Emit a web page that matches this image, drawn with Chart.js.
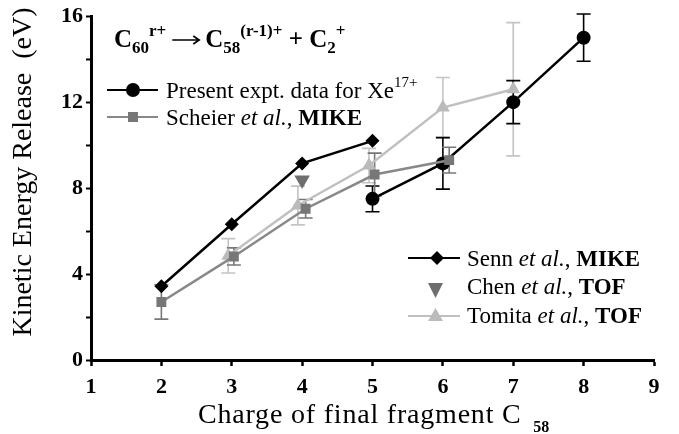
<!DOCTYPE html>
<html><head><meta charset="utf-8">
<script src="https://cdn.jsdelivr.net/npm/chart.js@4"></script>
<style>html,body{margin:0;padding:0;background:#fff;}#wrap{width:679px;height:434px;}</style>
</head><body><div id="wrap"><canvas id="c" width="679" height="434"></canvas></div>
<script>
// ---- data ----
const presentX = [5, 6, 7, 8];
const presentY = [7.5, 9.15, 12.0, 15.0];
const presentErr = [0.6, 1.2, 1.0, 1.1];

const scheierX = [2, 3.03, 4.05, 5.03, 6.09];
const scheierY = [2.7, 4.82, 7.04, 8.63, 9.3];
const scheierErr = [0.8, 0.4, 0.43, 1.0, 0.6];

const sennX = [2, 3, 4, 5];
const sennY = [3.43, 6.32, 9.15, 10.2];

const chenX = [4];
const chenY = [8.38];

const tomitaX = [2.95, 3.94, 4.95, 6, 7];
const tomitaY = [4.85, 7.19, 9.05, 11.75, 12.6];
const tomitaErr = [0.8, 0.9, 0.8, 1.4, 3.1];

const xTicks = [1, 2, 3, 4, 5, 6, 7, 8, 9];
const yMajorTicks = [0, 4, 8, 12, 16];

const pts = (xs, ys) => xs.map((x, i) => ({x: x, y: ys[i]}));
const SERIF = '"Liberation Serif", "Times New Roman", serif';

const errorSets = [
  {xs: tomitaX, ys: tomitaY, err: tomitaErr, color: '#c4c4c4'},
  {xs: presentX, ys: presentY, err: presentErr, color: '#000'},
  {xs: scheierX, ys: scheierY, err: scheierErr, color: '#777'}
];

function drawRich(ctx, x, y, segs) {
  let cx = x;
  segs.forEach(s => {
    if (s.arrow) {
      const w = s.arrow, ay = y - 7;
      ctx.save();
      ctx.strokeStyle = '#000'; ctx.lineWidth = 1.6;
      ctx.beginPath();
      ctx.moveTo(cx, ay); ctx.lineTo(cx + w, ay);
      ctx.moveTo(cx + w - 6, ay - 4); ctx.lineTo(cx + w, ay); ctx.lineTo(cx + w - 6, ay + 4);
      ctx.stroke();
      ctx.restore();
      cx += w + (s.gap || 0);
      return;
    }
    ctx.font = s.font;
    ctx.fillText(s.t, cx, y + (s.dy || 0));
    cx += ctx.measureText(s.t).width + (s.gap || 0);
  });
  return cx;
}

const errorBarPlugin = {
  id: 'errbars',
  beforeDatasetsDraw(chart) {
    const ctx = chart.ctx, xs = chart.scales.x, ys = chart.scales.y;
    ctx.save();
    ctx.lineWidth = 1.6;
    errorSets.forEach(set => {
      ctx.strokeStyle = set.color;
      set.xs.forEach((xv, i) => {
        const e = set.err[i];
        if (e == null) return;
        const px = xs.getPixelForValue(xv);
        const top = ys.getPixelForValue(set.ys[i] + e);
        const bot = ys.getPixelForValue(set.ys[i] - e);
        ctx.beginPath();
        ctx.moveTo(px, top); ctx.lineTo(px, bot);
        ctx.moveTo(px - 7, top); ctx.lineTo(px + 7, top);
        ctx.moveTo(px - 7, bot); ctx.lineTo(px + 7, bot);
        ctx.stroke();
      });
    });
    ctx.restore();
  }
};

const textPlugin = {
  id: 'texts',
  afterDraw(chart) {
    const ctx = chart.ctx;
    ctx.save();
    ctx.fillStyle = '#000';
    ctx.textBaseline = 'alphabetic';
    ctx.textAlign = 'left';
    const B = 'bold 25px ' + SERIF, Bs = 'bold 17px ' + SERIF;
    drawRich(ctx, 114, 47, [
      {t: 'C', font: B}, {t: '60', font: Bs, dy: 6}, {t: 'r+', font: Bs, dy: -11, gap: 6},
      {arrow: 27, gap: 6}, {t: 'C', font: B}, {t: '58', font: Bs, dy: 6},
      {t: '(r-1)+', font: Bs, dy: -11}, {t: ' + ', font: B}, {t: 'C', font: B},
      {t: '2', font: Bs, dy: 6}, {t: '+', font: Bs, dy: -11}
    ]);
    const R = '23px ' + SERIF, I = 'italic 23px ' + SERIF, BB = 'bold 23px ' + SERIF;
    function legLine(x1, x2, y, color) {
      ctx.strokeStyle = color; ctx.lineWidth = 2;
      ctx.beginPath(); ctx.moveTo(x1, y); ctx.lineTo(x2, y); ctx.stroke();
    }
    legLine(107, 158, 90, '#000');
    ctx.fillStyle = '#000';
    ctx.beginPath(); ctx.arc(133, 90, 7, 0, Math.PI * 2); ctx.fill();
    drawRich(ctx, 166, 98, [{t: 'Present expt. data for Xe', font: R}, {t: '17+', font: '15px ' + SERIF, dy: -11}]);
    legLine(107, 158, 117, '#888');
    ctx.fillStyle = '#777';
    ctx.fillRect(128, 112, 10, 10);
    ctx.fillStyle = '#000';
    drawRich(ctx, 166, 125, [{t: 'Scheier ', font: R}, {t: 'et al.', font: I}, {t: ', ', font: R}, {t: 'MIKE', font: BB}]);
    legLine(408, 460, 258, '#000');
    ctx.fillStyle = '#000';
    ctx.beginPath(); ctx.moveTo(437, 251); ctx.lineTo(444, 258); ctx.lineTo(437, 265); ctx.lineTo(430, 258); ctx.closePath(); ctx.fill();
    drawRich(ctx, 467, 266, [{t: 'Senn ', font: R}, {t: 'et al.', font: I}, {t: ', ', font: R}, {t: 'MIKE', font: BB}]);
    ctx.fillStyle = '#6e6e6e';
    ctx.beginPath(); ctx.moveTo(428, 283); ctx.lineTo(443, 283); ctx.lineTo(435.5, 298); ctx.closePath(); ctx.fill();
    ctx.fillStyle = '#000';
    drawRich(ctx, 467, 294, [{t: 'Chen ', font: R}, {t: 'et al.', font: I}, {t: ', ', font: R}, {t: 'TOF', font: BB}]);
    legLine(408, 460, 316, '#c0c0c0');
    ctx.fillStyle = '#bbb';
    ctx.beginPath(); ctx.moveTo(435.5, 308); ctx.lineTo(443, 321); ctx.lineTo(428, 321); ctx.closePath(); ctx.fill();
    ctx.fillStyle = '#000';
    drawRich(ctx, 467, 323, [{t: 'Tomita ', font: R}, {t: 'et al.', font: I}, {t: ', ', font: R}, {t: 'TOF', font: BB}]);
    ctx.letterSpacing = '0.8px';
    const xEnd = drawRich(ctx, 198, 423, [{t: 'Charge of final fragment C ', font: '28px ' + SERIF}]);
    ctx.letterSpacing = '0px';
    drawRich(ctx, xEnd + 4, 432, [{t: '58', font: 'bold 16px ' + SERIF}]);
    ctx.save();
    ctx.translate(31, 172);
    ctx.rotate(-Math.PI / 2);
    ctx.textAlign = 'center';
    ctx.font = '28px ' + SERIF;
    ctx.fillText('Kinetic Energy Release  (eV)', 0, 0);
    ctx.restore();
    ctx.restore();
  }
};

new Chart(document.getElementById('c'), {
  type: 'scatter',
  data: {
    datasets: [
      {label: 'Scheier', data: pts(scheierX, scheierY), showLine: true, borderColor: '#888', borderWidth: 2.5,
       pointStyle: 'rect', pointRadius: 7, backgroundColor: '#777', pointBorderWidth: 0, order: 0},
      {label: 'Chen', data: pts(chenX, chenY), showLine: false, pointStyle: 'triangle', rotation: 180,
       pointRadius: 9, backgroundColor: '#6e6e6e', pointBorderWidth: 0, order: 1},
      {label: 'Present', data: pts(presentX, presentY), showLine: true, borderColor: '#000', borderWidth: 2.5,
       pointStyle: 'circle', pointRadius: 7, backgroundColor: '#000', pointBorderWidth: 0, order: 2},
      {label: 'Senn', data: pts(sennX, sennY), showLine: true, borderColor: '#000', borderWidth: 2.5,
       pointStyle: 'rectRot', pointRadius: 7, backgroundColor: '#000', pointBorderWidth: 0, order: 3},
      {label: 'Tomita', data: pts(tomitaX, tomitaY), showLine: true, borderColor: '#c0c0c0', borderWidth: 2.5,
       pointStyle: 'triangle', pointRadius: 8, backgroundColor: '#bbb', pointBorderWidth: 0, order: 4}
    ]
  },
  options: {
    responsive: false, animation: false, devicePixelRatio: 1,
    layout: {padding: {left: 0, right: 25, top: 15, bottom: 0}},
    plugins: {legend: {display: false}, tooltip: {enabled: false}},
    elements: {line: {tension: 0}},
    scales: {
      x: {
        type: 'linear', min: 1, max: 9,
        afterFit(s) { s.height = 74; },
        afterBuildTicks(s) { s.ticks = xTicks.map(v => ({value: v})); },
        ticks: {font: {family: SERIF, size: 22, weight: 'bold'}, color: '#000', padding: 8, maxRotation: 0, autoSkip: false},
        grid: {drawOnChartArea: false, drawTicks: true, tickLength: 6, tickColor: '#000', tickWidth: 2.5},
        border: {color: '#000', width: 3}
      },
      y: {
        type: 'linear', min: 0, max: 16,
        afterFit(s) { s.width = 91; },
        ticks: {stepSize: 2, autoSkip: false, font: {family: SERIF, size: 22, weight: 'bold'}, color: '#000', padding: 3,
          callback: v => yMajorTicks.includes(v) ? String(v) : ''},
        grid: {drawOnChartArea: false, drawTicks: true, tickLength: 5, tickColor: '#000', tickWidth: 2},
        border: {color: '#000', width: 3}
      }
    }
  },
  plugins: [errorBarPlugin, textPlugin]
});
</script>
</body></html>
